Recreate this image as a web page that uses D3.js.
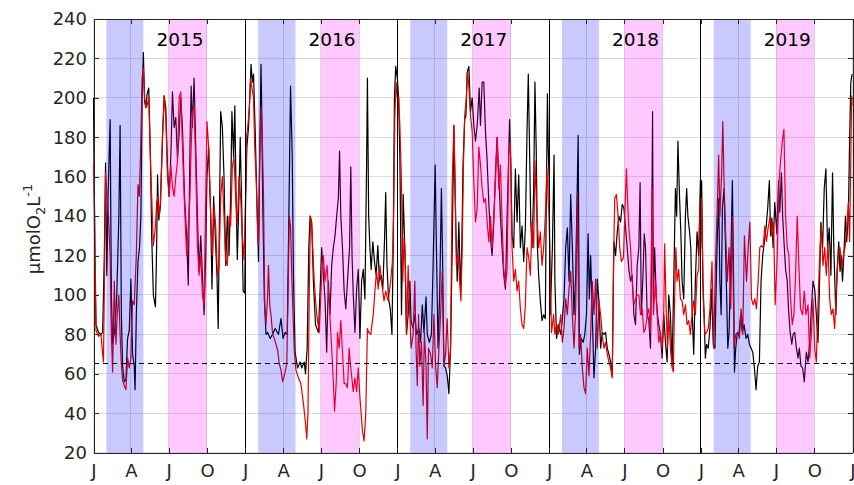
<!DOCTYPE html>
<html>
<head>
<meta charset="utf-8">
<script src="https://cdn.jsdelivr.net/npm/d3@7"></script>
<style>
  body { margin: 0; background: #fff; }
  svg { display: block; }
  text { font-family: "DejaVu Sans", sans-serif; }
</style>
</head>
<body>
<svg id="chart" width="854" height="485"></svg>
<script>
// Dissolved oxygen record, 2015-2019 (µmol O2 per litre)
const years = [2015, 2016, 2017, 2018, 2019];
const yTicks = [20, 40, 60, 80, 100, 120, 140, 160, 180, 200, 220, 240];
const tickMonths = [0, 3, 6, 9];
const monthLetters = { 0: "J", 3: "A", 6: "J", 9: "O" };
const threshold = 65;
// shaded seasons: [start month, end month) within each year
const seasonBlue = [1, 4];
const seasonPink = [6, 9];

// [day of year, value] for the black series
const black2015 = [[0,200],[3,120],[6,85],[12,81],[18,80],[22,81],[26,120],[29,167],[32,110],[35,150],[40,189],[43,100],[46,75],[51,82],[56,100],[61,140],[64,186],[67,90],[70,64],[74,56],[78,57],[82,78],[86,82],[90,108],[94,70],[98,64],[100,52],[103,90],[107,117],[111,125],[114,140],[117,200],[120,223],[123,198],[126,195],[129,202],[133,205],[137,170],[140,130],[144,100],[149,94],[152,125],[154,161],[157,138],[161,145],[166,180],[170,201],[174,195],[178,165],[182,150],[186,170],[190,203],[194,185],[198,190],[202,169],[206,182],[210,200],[214,185],[219,150],[224,130],[228,105],[232,175],[235,206],[238,185],[242,210],[246,175],[250,140],[254,112],[258,130],[262,110],[266,90],[270,120],[273,160],[277,175],[282,140],[285,103],[289,150],[293,130],[297,110],[300,83],[303,140],[306,193],[310,185],[314,160],[318,115],[322,140],[326,120],[330,150],[333,193],[337,170],[340,196],[343,150],[346,118],[350,150],[353,180],[357,140],[360,102],[364,101]];
const black2016 = [[1,150],[4,175],[8,185],[14,217],[17,208],[20,212],[24,183],[28,149],[32,117],[34,157],[38,217],[40,191],[42,149],[46,98],[50,80],[54,81],[60,78],[66,80],[72,83],[80,80],[86,88],[91,78],[96,81],[101,80],[105,140],[109,206],[113,171],[116,110],[120,71],[126,63],[132,66],[136,63],[142,66],[145,60],[149,73],[153,124],[156,140],[160,137],[164,107],[169,85],[176,81],[181,107],[184,124],[188,110],[192,98],[196,71],[200,107],[204,90],[208,115],[212,124],[216,130],[220,140],[224,149],[227,173],[230,140],[234,124],[238,102],[242,93],[246,107],[251,124],[254,165],[257,120],[260,100],[264,81],[268,103],[272,113],[276,78],[280,107],[284,113],[288,98],[292,166],[294,210],[297,140],[300,124],[303,113],[307,127],[311,117],[315,110],[319,125],[323,107],[327,110],[331,103],[335,127],[338,152],[341,115],[345,98],[349,93],[353,80],[356,124],[359,200],[362,216]];
const black2017 = [[0,210],[3,200],[6,171],[10,90],[14,151],[18,124],[22,80],[26,90],[30,107],[33,87],[38,83],[42,90],[46,80],[52,83],[56,76],[60,95],[64,81],[69,99],[72,80],[77,76],[82,80],[86,115],[91,166],[94,124],[98,73],[102,102],[106,154],[109,115],[112,64],[116,63],[120,59],[124,50],[128,73],[132,124],[136,186],[140,140],[144,107],[148,137],[152,102],[155,124],[158,166],[162,189],[165,191],[168,213],[172,216],[176,193],[180,200],[184,186],[188,178],[192,186],[197,205],[200,186],[204,208],[208,208],[212,183],[216,168],[220,147],[224,129],[228,120],[232,137],[236,162],[240,180],[244,161],[248,140],[252,124],[256,110],[260,103],[264,140],[268,171],[270,189],[273,166],[276,130],[280,124],[284,164],[288,137],[292,161],[296,124],[300,135],[304,117],[308,134],[312,183],[315,212],[318,175],[321,137],[324,124],[328,154],[331,208],[334,175],[337,124],[340,110],[344,97],[348,87],[352,90],[356,88],[358,140],[361,202],[363,175]];
const black2018 = [[0,160],[3,90],[8,124],[12,171],[14,107],[18,78],[22,85],[28,80],[32,88],[36,98],[40,124],[44,134],[48,107],[52,151],[56,124],[60,90],[64,110],[68,157],[70,181],[73,70],[77,78],[82,76],[86,80],[90,90],[94,131],[97,98],[100,120],[104,90],[108,58],[112,73],[116,108],[120,97],[124,73],[128,81],[132,80],[136,81],[140,73],[144,70],[148,66],[152,59],[156,127],[160,120],[164,132],[168,140],[172,137],[176,146],[180,144],[184,134],[188,124],[192,113],[196,107],[200,110],[204,90],[208,85],[212,115],[216,124],[219,157],[222,90],[226,110],[229,131],[232,124],[236,90],[240,87],[244,73],[246,107],[249,193],[251,98],[254,124],[258,98],[261,90],[264,85],[268,80],[272,68],[276,90],[280,76],[284,66],[288,100],[292,90],[296,64],[300,107],[304,154],[307,140],[310,178],[314,149],[317,132],[320,107],[324,98],[328,140],[331,154],[334,140],[338,132],[341,124],[344,93],[348,70],[352,107],[356,132],[360,120],[364,158]];
const black2019 = [[0,134],[2,158],[5,107],[8,90],[11,68],[14,75],[18,73],[22,83],[26,103],[30,75],[34,73],[39,124],[43,149],[46,107],[49,90],[52,144],[56,154],[60,120],[65,73],[68,81],[72,115],[76,158],[79,107],[81,61],[84,73],[88,81],[92,80],[96,90],[100,81],[104,85],[109,78],[113,80],[117,75],[121,73],[125,71],[129,63],[133,52],[137,64],[141,66],[145,107],[149,120],[153,127],[157,134],[161,144],[165,158],[168,130],[171,139],[174,124],[178,147],[183,131],[187,158],[190,142],[194,162],[197,140],[201,124],[204,113],[208,107],[211,93],[215,81],[219,75],[222,80],[226,81],[230,73],[234,68],[237,73],[241,64],[245,63],[249,56],[254,71],[258,66],[262,76],[266,93],[270,107],[274,103],[278,90],[282,76],[285,100],[289,137],[293,124],[297,154],[301,164],[305,124],[309,134],[313,110],[317,162],[320,124],[325,90],[328,113],[332,127],[335,112],[338,120],[341,107],[345,124],[348,140],[351,127],[355,140],[358,178],[361,208],[364,212]];

// [day of year, value] for the red series
const red2015 = [[0,167],[3,140],[6,82],[12,79],[18,80],[22,70],[24,66],[27,120],[29,162],[33,148],[36,140],[40,120],[43,80],[46,61],[50,107],[54,75],[57,90],[61,100],[64,80],[67,65],[70,57],[74,54],[78,52],[82,68],[86,63],[90,68],[94,97],[98,95],[103,120],[107,156],[110,150],[113,170],[117,210],[120,215],[123,200],[126,195],[129,196],[133,200],[137,168],[140,150],[144,125],[149,135],[152,147],[155,150],[158,140],[161,148],[166,180],[170,201],[174,190],[178,160],[182,150],[186,166],[190,155],[194,150],[198,160],[202,168],[206,200],[210,203],[214,175],[219,145],[224,120],[228,135],[232,150],[235,175],[238,193],[242,195],[246,165],[250,125],[254,110],[258,120],[262,100],[266,95],[270,150],[273,188],[277,175],[282,140],[286,120],[290,145],[294,135],[298,110],[302,115],[306,150],[310,160],[314,140],[318,118],[322,115],[326,140],[330,135],[334,165],[338,170],[342,150],[346,135],[350,160],[354,150],[358,130],[362,118]];
const red2016 = [[1,150],[3,180],[6,185],[10,195],[13,210],[16,205],[20,200],[23,175],[27,155],[30,130],[32,125],[35,170],[38,196],[41,180],[44,150],[47,95],[50,85],[54,100],[56,115],[59,95],[62,90],[66,80],[70,78],[74,75],[78,72],[82,65],[86,62],[90,56],[95,60],[100,65],[103,100],[106,140],[109,135],[112,110],[115,90],[118,72],[122,62],[128,58],[134,55],[140,45],[145,35],[148,27],[151,40],[154,100],[157,140],[160,135],[166,107],[172,90],[178,81],[184,110],[188,120],[192,107],[197,115],[202,95],[206,81],[210,65],[215,41],[219,56],[222,81],[226,73],[230,87],[234,71],[238,55],[242,55],[246,53],[250,73],[254,63],[260,51],[264,58],[268,51],[272,63],[276,48],[282,31],[286,26],[290,40],[294,83],[297,81],[302,80],[308,90],[312,102],[316,112],[320,103],[324,115],[328,107],[334,97],[338,102],[344,97],[350,107],[354,117],[357,140],[360,191],[363,208]];
const red2017 = [[0,200],[3,201],[6,186],[10,157],[13,107],[16,129],[19,120],[22,80],[26,115],[30,90],[33,73],[38,80],[42,107],[45,73],[48,54],[51,90],[54,64],[58,76],[62,44],[65,81],[69,64],[72,27],[75,73],[80,70],[84,63],[88,90],[92,64],[96,53],[100,73],[104,90],[108,112],[112,64],[116,70],[120,88],[124,63],[128,73],[132,157],[136,186],[139,157],[142,115],[146,120],[150,107],[153,97],[156,124],[159,166],[162,191],[166,200],[169,213],[172,206],[176,191],[180,183],[184,157],[188,137],[192,144],[196,175],[200,166],[204,154],[208,147],[212,149],[216,137],[220,127],[224,140],[228,124],[232,140],[236,157],[240,180],[244,154],[248,166],[252,137],[256,113],[260,105],[264,113],[268,171],[272,178],[276,124],[280,107],[284,113],[288,102],[292,107],[296,93],[300,85],[304,83],[308,95],[312,124],[316,119],[320,110],[324,137],[328,124],[331,168],[336,140],[340,124],[344,132],[348,115],[352,124],[356,140],[360,164],[363,147]];
const red2018 = [[0,140],[3,107],[6,81],[11,90],[14,80],[18,85],[22,80],[28,90],[32,76],[36,83],[40,98],[44,90],[48,103],[52,112],[56,90],[60,73],[64,93],[68,151],[72,73],[76,80],[80,63],[84,53],[88,50],[92,73],[96,59],[100,80],[104,107],[108,90],[112,108],[116,73],[120,97],[124,90],[128,80],[132,73],[136,76],[140,70],[144,66],[148,63],[152,58],[155,115],[158,149],[162,151],[166,140],[170,124],[174,117],[179,119],[182,140],[186,164],[189,147],[192,134],[196,124],[200,107],[204,95],[208,98],[212,100],[216,100],[220,90],[224,93],[228,81],[232,83],[236,90],[240,93],[244,81],[248,154],[251,90],[256,107],[260,90],[264,76],[268,81],[272,73],[276,92],[278,126],[282,90],[285,73],[288,90],[292,73],[296,63],[299,61],[302,98],[305,124],[308,107],[312,113],[316,98],[320,97],[324,90],[328,95],[332,85],[336,87],[340,80],[344,90],[348,97],[352,90],[356,110],[360,113],[363,147]];
const red2019 = [[0,124],[2,149],[6,98],[10,80],[14,81],[18,83],[22,93],[27,117],[31,73],[35,113],[40,147],[43,171],[46,140],[50,161],[53,188],[56,157],[60,130],[64,107],[68,124],[72,93],[76,140],[80,73],[84,80],[89,81],[93,78],[97,93],[101,80],[105,130],[110,107],[114,124],[118,137],[122,98],[126,95],[130,98],[134,93],[138,107],[142,124],[146,125],[150,124],[154,135],[158,127],[162,134],[167,140],[171,130],[175,137],[179,95],[184,120],[188,157],[192,168],[196,178],[200,184],[204,140],[208,124],[212,120],[216,98],[220,85],[224,90],[228,110],[232,140],[236,115],[240,93],[245,90],[249,102],[253,90],[258,95],[262,68],[266,80],[270,98],[274,73],[278,66],[282,95],[286,120],[290,135],[294,115],[298,124],[302,110],[306,127],[310,98],[314,90],[318,93],[322,83],[327,107],[331,120],[335,124],[339,113],[343,120],[347,124],[351,134],[355,147],[358,127],[361,170],[363,201],[364,196]];

const blackByYear = [black2015, black2016, black2017, black2018, black2019];
const redByYear = [red2015, red2016, red2017, red2018, red2019];

const DAY = 864e5;
const toPoints = (byYear) => byYear.flatMap((arr, i) =>
  arr.map(([day, v]) => ({ date: new Date(Date.UTC(years[i], 0, 1) + day * DAY), value: v })));

const svg = d3.select("#chart");
const L = 93.5, R = 852.5, T = 19, B = 452.7;
const ink = "#262626";

const x = d3.scaleUtc()
  .domain([new Date(Date.UTC(years[0], 0, 1)), new Date(Date.UTC(years[years.length - 1] + 1, 0, 1))])
  .range([L, R]);
const y = d3.scaleLinear().domain([20, 240]).range([B, T]);

const tickDates = years.flatMap(yr => tickMonths.map(m => new Date(Date.UTC(yr, m, 1))))
  .concat([new Date(Date.UTC(years[years.length - 1] + 1, 0, 1))]);

// grid
const grid = svg.append("g").attr("stroke", "#dcdcdc").attr("stroke-width", 1)
  .attr("shape-rendering", "crispEdges");
grid.selectAll("line.h").data(yTicks).join("line")
  .attr("x1", L).attr("x2", R).attr("y1", d => y(d)).attr("y2", d => y(d));
grid.selectAll("line.v").data(tickDates).join("line")
  .attr("x1", d => x(d)).attr("x2", d => x(d)).attr("y1", T).attr("y2", B);

// series
const line = d3.line().x(d => x(d.date)).y(d => y(d.value));
svg.append("path").datum(toPoints(blackByYear))
  .attr("fill", "none").attr("stroke", "#000").attr("stroke-width", 1.2)
  .attr("stroke-linejoin", "round").attr("d", line);
svg.append("path").datum(toPoints(redByYear))
  .attr("fill", "none").attr("stroke", "#e60000").attr("stroke-width", 1.2)
  .attr("stroke-linejoin", "round").attr("d", line);

// translucent seasonal bands laid over the series
const bands = years.flatMap(yr => [
  { a: new Date(Date.UTC(yr, seasonBlue[0], 1)), b: new Date(Date.UTC(yr, seasonBlue[1], 1)), c: "rgba(0,0,255,0.21)" },
  { a: new Date(Date.UTC(yr, seasonPink[0], 1)), b: new Date(Date.UTC(yr, seasonPink[1], 1)), c: "rgba(255,0,255,0.21)" }
]);
svg.append("g").selectAll("rect").data(bands).join("rect")
  .attr("x", d => x(d.a)).attr("width", d => x(d.b) - x(d.a))
  .attr("y", T).attr("height", B - T).attr("fill", d => d.c);

// year boundaries
svg.append("g").attr("shape-rendering", "crispEdges").selectAll("line").data(years.slice(1)).join("line")
  .attr("x1", d => x(new Date(Date.UTC(d, 0, 1)))).attr("x2", d => x(new Date(Date.UTC(d, 0, 1))))
  .attr("y1", T).attr("y2", B).attr("stroke", "#000").attr("stroke-width", 1);

// threshold
svg.append("line").attr("shape-rendering", "crispEdges")
  .attr("x1", L).attr("x2", R).attr("y1", y(threshold)).attr("y2", y(threshold))
  .attr("stroke", "#000").attr("stroke-width", 1).attr("stroke-dasharray", "5,4");

// axes
const styleAxis = g => {
  g.attr("shape-rendering", "crispEdges");
  g.select(".domain").attr("stroke", ink).attr("stroke-width", 1);
  g.selectAll(".tick line").attr("stroke", ink).attr("stroke-width", 1);
  g.selectAll("text").attr("fill", ink).attr("font-size", 18).attr("font-family", "DejaVu Sans, sans-serif");
};
svg.append("g").attr("transform", `translate(0,${B})`)
  .call(d3.axisBottom(x).tickValues(tickDates).tickFormat(d => monthLetters[d.getUTCMonth()])
    .tickSizeInner(-5).tickSizeOuter(0).tickPadding(12))
  .call(styleAxis);
svg.append("g").attr("transform", `translate(0,${T})`)
  .call(d3.axisTop(x).tickValues(tickDates).tickFormat("").tickSizeInner(-5).tickSizeOuter(0))
  .call(styleAxis);
svg.append("g").attr("transform", `translate(${L},0)`)
  .call(d3.axisLeft(y).tickValues(yTicks).tickSizeInner(-5).tickSizeOuter(0).tickPadding(6.5))
  .call(styleAxis);
svg.append("g").attr("transform", `translate(${R},0)`)
  .call(d3.axisRight(y).tickValues(yTicks).tickFormat("").tickSizeInner(-5).tickSizeOuter(0))
  .call(styleAxis);

// year labels
svg.append("g").selectAll("text").data(years).join("text")
  .attr("x", d => x(new Date(Date.UTC(d, 6, 28))))
  .attr("y", 46).attr("text-anchor", "middle").attr("font-size", 18.5).attr("fill", "#000")
  .text(d => d);

// y-axis title
const yl = svg.append("text").attr("transform", "translate(40,229) rotate(-90)")
  .attr("text-anchor", "middle").attr("font-size", 18).attr("fill", ink);
yl.append("tspan").text("µmolO");
yl.append("tspan").attr("font-size", 13).attr("dy", 5).text("2");
yl.append("tspan").attr("dy", -5).text("L");
yl.append("tspan").attr("font-size", 13).attr("dy", -8).text("-1");
</script>
</body>
</html>
